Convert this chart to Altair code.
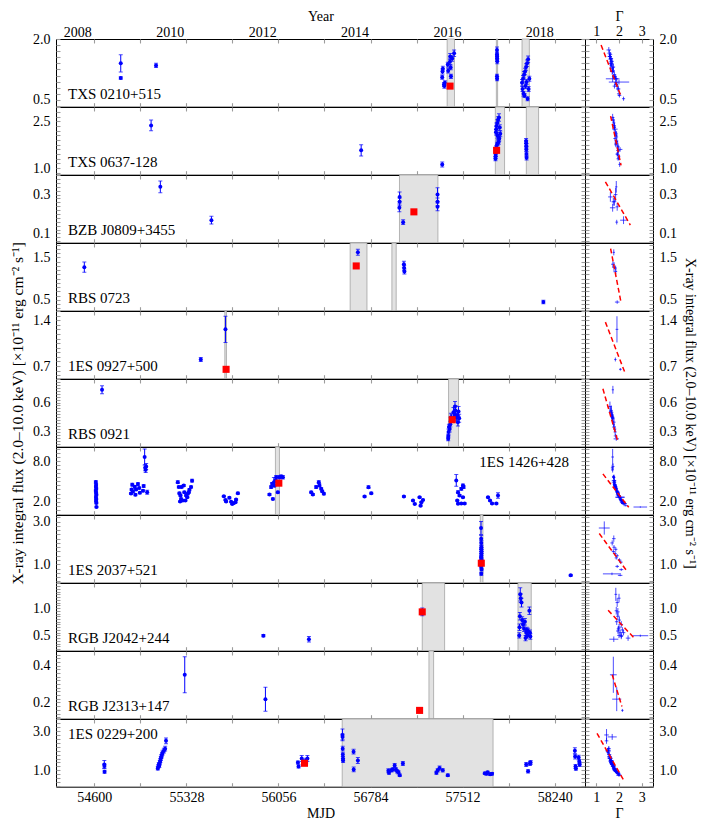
import altair as alt
import numpy as np
import pandas as pd

FONT = "Liberation Serif"
BLUE = "#0000ff"
RED = "#ff0000"

W_LEFT, W_RIGHT, H_ROW = 529, 68, 67.7

MJD_DOMAIN = [54297, 58480]
MJD_TICKS = [54600, 54964, 55328, 55692, 56056, 56420, 56784, 57148, 57512, 57876, 58240]
MJD_LABELS = [54600, 55328, 56056, 56784, 57512, 58240]
YEAR_TICKS = [2008, 2010, 2012, 2014, 2016, 2018]
GAMMA_DOMAIN = [0.5, 3.5]
GAMMA_TICKS = [1, 2, 3]

NAMES = ["TXS 0210+515", "TXS 0637-128", "BZB J0809+3455", "RBS 0723", "1ES 0927+500",
         "RBS 0921", "1ES 1426+428", "1ES 2037+521", "RGB J2042+244", "RGB J2313+147",
         "1ES 0229+200"]
LABEL_CORNER = ["bl", "bl", "bl", "bl", "bl", "bl", "tr", "bl", "bl", "bl", "tl"]
Y_DOMAINS = [[0.333, 2.0], [0.79, 2.96], [0.052, 0.401], [0.247, 1.84], [0.507, 1.54],
             [0.15, 0.84], [0.065, 10.08], [0.136, 3.31], [0.22, 1.458], [0.112, 0.479],
             [0.17, 3.61]]
Y_MAJOR = [[0.5, 2.0], [1.0, 2.5], [0.1, 0.3], [0.5, 1.5], [0.7, 1.4], [0.3, 0.6],
           [2.0, 8.0], [1.0, 3.0], [0.5, 1.0], [0.2, 0.4], [1.0, 3.0]]

RED_MJD = [57413, 57781, 57127, 56671, 55642, 57430, 56059, 57660, 57193, 57172, 56262]
RED_FLUX = [0.84, 1.57, 0.211, 1.30, 0.65, 0.425, 4.73, 1.05, 0.93, 0.157, 1.36]

HATCH_START = [[57390, 57779, 57982], [57771, 58016], [57013], [56623, 56953], [55632],
               [57401], [56032], [57652], [57193, 57950], [57246], [56560]]
HATCH_END = [[57448, 57789, 58040], [57844, 58113], [57317], [56756, 56987], [55645],
             [57480], [56064], [57673], [57370, 58055], [57283], [57753]]

LINE_GAMMA = [[1.21, 2.09], [1.63, 2.09], [1.40, 2.50], [1.63, 2.09], [1.40, 2.25],
              [1.29, 1.94], [1.29, 2.43], [1.13, 2.32], [1.52, 2.65], [1.70, 2.13], [1.03, 2.20]]
LINE_FLUX = [[1.85, 0.59], [2.67, 1.09], [0.366, 0.143], [1.71, 0.44], [1.37, 0.61],
             [0.74, 0.21], [6.1, 1.16], [2.44, 0.72], [0.96, 0.46], [0.35, 0.178], [2.88, 0.51]]

# ---------------- per-source observations ----------------
R1_MJD = [54809, 54809, 55088, 57351, 57353, 57356, 57365, 57368, 57372, 57395, 57398, 57412, 57414,
          57418, 57420, 57430, 57445, 57784, 57784, 57785, 57785, 57786, 57784, 57785, 57982, 57990,
          57998, 58006, 58014, 58022, 58030, 57986, 57994, 58002, 58010, 58018, 58026, 58034, 58040]
R1_FLUX = [1.40, 1.04, 1.35, 1.06, 1.20, 1.27, 0.88, 0.84, 0.92, 1.37, 1.22, 1.44, 1.57, 1.30, 1.08,
           1.52, 1.65, 1.73, 1.62, 1.57, 1.52, 1.45, 1.08, 1.02, 0.92, 1.02, 1.12, 1.20, 1.31, 1.40,
           1.50, 0.77, 0.65, 0.61, 0.84, 0.94, 0.53, 0.77, 1.02]
R1_FERR = [0.21, 0.03, 0.05, 0.05, 0.06, 0.06, 0.05, 0.05, 0.05, 0.06, 0.06, 0.07, 0.07, 0.06, 0.05,
           0.07, 0.08, 0.07, 0.06, 0.06, 0.06, 0.06, 0.05, 0.05, 0.08, 0.08, 0.08, 0.08, 0.08, 0.08,
           0.08, 0.06, 0.06, 0.05, 0.06, 0.06, 0.05, 0.06, 0.06]
R1_GAMMA = [1.62, 1.80, 1.65, 1.78, 1.72, 1.70, 1.88, 1.92, 1.85, 1.68, 1.75, 1.66, 1.60, 1.73, 1.84,
            1.63, 1.58, 1.55, 1.62, 1.58, 1.66, 1.70, 1.76, 1.88, 1.90, 1.72, 1.80, 1.70, 1.75, 1.68,
            1.62, 1.95, 2.00, 2.02, 1.80, 2.00, 2.20, 1.98, 1.85]
R1_GERR = [0.10, 0.06, 0.06, 0.07, 0.08, 0.07, 0.08, 0.08, 0.07, 0.08, 0.07, 0.08, 0.09, 0.07, 0.07,
           0.08, 0.09, 0.10, 0.08, 0.08, 0.08, 0.07, 0.07, 0.08, 0.08, 0.30, 0.08, 0.08, 0.08, 0.08,
           0.08, 0.08, 0.09, 0.08, 0.08, 0.45, 0.07, 0.08, 0.08]

R2_MJD = [55049, 56710, 57351, 57800, 57792, 57786, 57780, 57778, 57776, 57788, 57794, 57802, 57798,
          57790, 57784, 57778, 57776, 57774, 57773, 57772, 57806, 57810, 58014, 58015, 58016, 58016,
          58017, 58018]
R2_FLUX = [2.37, 1.57, 1.12, 2.62, 2.55, 2.45, 2.35, 2.25, 2.15, 2.05, 2.00, 1.95, 1.85, 1.80, 1.75,
           1.65, 1.55, 1.45, 1.38, 1.30, 2.30, 2.10, 1.87, 1.80, 1.70, 1.60, 1.45, 1.33]
R2_FERR = [0.17, 0.18, 0.08, 0.12, 0.10, 0.10, 0.10, 0.09, 0.09, 0.09, 0.08, 0.08, 0.08, 0.08, 0.08,
           0.07, 0.07, 0.07, 0.07, 0.06, 0.09, 0.09, 0.08, 0.08, 0.08, 0.07, 0.07, 0.07]
R2_GAMMA = [1.78, 1.95, 2.03, 1.72, 1.75, 1.77, 1.80, 1.82, 1.85, 1.86, 1.90, 1.82, 1.88, 1.92, 1.86,
            1.95, 1.98, 1.93, 2.00, 1.96, 1.80, 1.88, 1.90, 1.86, 1.96, 2.05, 1.92, 1.98]
R2_GERR = [0.07, 0.08, 0.06, 0.08, 0.07, 0.07, 0.07, 0.12, 0.07, 0.07, 0.06, 0.07, 0.07, 0.06, 0.07,
           0.07, 0.06, 0.07, 0.06, 0.07, 0.07, 0.07, 0.07, 0.07, 0.07, 0.10, 0.07, 0.06]

R3_MJD = [55122, 55526, 57014, 57014, 57012, 57042, 57314, 57314, 57314]
R3_FLUX = [0.34, 0.168, 0.288, 0.263, 0.232, 0.158, 0.30, 0.263, 0.237]
R3_FERR = [0.03, 0.02, 0.025, 0.02, 0.02, 0.012, 0.035, 0.02, 0.02]
R3_GAMMA = [1.88, 2.20, 1.62, 1.80, 1.72, 1.90, 1.85, 1.75, 1.92]
R3_GERR = [0.05, 0.15, 0.10, 0.08, 0.12, 0.06, 0.08, 0.08, 0.07]

R4_MJD = [54521, 56684, 57048, 57050, 57052, 58151]
R4_FLUX = [1.27, 1.62, 1.34, 1.25, 1.17, 0.45]
R4_FERR = [0.12, 0.07, 0.07, 0.06, 0.06, 0.04]
R4_GAMMA = [1.78, 1.77, 1.73, 1.85, 1.86, 1.92]
R4_GERR = [0.08, 0.05, 0.08, 0.06, 0.06, 0.10]

R5_MJD = [55442, 55637, 55640]
R5_FLUX = [0.80, 1.26, 0.65]
R5_FERR = [0.03, 0.20, 0.02]
R5_GAMMA = [1.84, 1.91, 2.06]
R5_GERR = [0.05, 0.06, 0.06]

R6_MJD = [54661, 57398, 57399, 57401, 57404, 57410, 57415, 57420, 57425, 57440, 57448, 57452, 57456,
          57462, 57470, 57475, 57485, 57480]
R6_FLUX = [0.73, 0.23, 0.26, 0.30, 0.35, 0.33, 0.38, 0.45, 0.44, 0.50, 0.46, 0.56, 0.52, 0.45, 0.47,
           0.40, 0.44, 0.51]
R6_FERR = [0.04, 0.02, 0.02, 0.03, 0.03, 0.03, 0.03, 0.04, 0.04, 0.05, 0.04, 0.05, 0.05, 0.04, 0.04,
           0.04, 0.04, 0.05]
R6_GAMMA = [1.73, 1.88, 1.85, 1.83, 1.78, 1.82, 1.76, 1.70, 1.72, 1.65, 1.70, 1.60, 1.66, 1.72, 1.68,
            1.78, 1.74, 1.64]
R6_GERR = [0.05, 0.12, 0.08, 0.07, 0.08, 0.06, 0.06, 0.07, 0.06, 0.10, 0.06, 0.08, 0.07, 0.08, 0.06,
           0.07, 0.06, 0.08]

R7_MJD = [54612, 54614, 54613, 54615, 54612, 54614, 54616, 54613, 54615, 54614, 54616, 54617,
          54890, 54895, 54900, 54905, 54920, 54925, 54930, 54945, 54955, 54960, 54985, 54990, 54998,
          55002, 55006, 55010, 55018,
          55260, 55268, 55273, 55281, 55286, 55300, 55307, 55312, 55326, 55339, 55347, 55352, 55365,
          55373, 55290, 55320, 55335, 55278,
          55624, 55637, 55642, 55668, 55682, 55690, 55700, 55716, 55721, 55735,
          55985, 55998, 56006, 56012, 56020, 56024, 56038, 56051, 56064, 56077, 56091, 56032,
          56315, 56328, 56354, 56375, 56380, 56394, 56402, 56415,
          56737, 56768, 56790, 57048, 57120, 57134, 57172, 57186, 57199, 57180,
          57462, 57476, 57488, 57502, 57515, 57520, 57470, 57476, 57502, 57528, 57515,
          57713, 57729, 57745, 57779, 57792]
R7_FLUX = [4.9, 4.5, 4.2, 3.9, 3.6, 3.3, 3.0, 2.7, 2.4, 2.1, 1.8, 1.2,
           3.2, 3.8, 4.5, 3.5, 4.2, 3.0, 3.8, 4.6, 4.0, 3.3, 3.6, 4.3, 8.6, 7.0, 6.7, 7.2, 3.4,
           4.88, 4.15, 3.24, 2.90, 2.40, 2.15, 4.4, 3.4, 2.9, 3.15, 3.4, 3.75, 4.15, 5.1, 4.15, 2.15,
           2.65, 2.0,
           2.8, 2.25, 2.0, 2.56, 1.97, 1.66, 1.75, 1.9, 2.3, 3.24,
           3.04, 4.15, 4.64, 2.4, 4.88, 4.4, 5.6, 3.4, 5.6, 5.7, 5.6, 5.1,
           3.4, 3.04, 4.15, 4.88, 4.4, 3.9, 3.55, 3.15,
           2.75, 4.13, 3.24, 2.75, 2.15, 1.66, 2.65, 1.9, 2.25, 1.4,
           5.13, 3.39, 2.9, 3.9, 4.4, 4.15, 2.15, 1.7, 1.72, 1.72, 2.65,
           2.65, 2.15, 1.72, 1.72, 2.9]
R7_FERR = [0.2, 0.2, 0.15, 0.15, 0.15, 0.12, 0.12, 0.12, 0.1, 0.1, 0.1, 0.1,
           0.15, 0.15, 0.2, 0.15, 0.2, 0.15, 0.15, 0.2, 0.15, 0.15, 0.15, 0.2, 1.2, 0.45, 0.4, 0.45, 0.3,
           0.2, 0.15, 0.15, 0.12, 0.12, 0.1, 0.15, 0.15, 0.12, 0.12, 0.15, 0.15, 0.15, 0.2, 0.15, 0.1,
           0.12, 0.1,
           0.12, 0.1, 0.1, 0.12, 0.1, 0.1, 0.1, 0.1, 0.12, 0.15,
           0.15, 0.2, 0.2, 0.12, 0.7, 0.2, 0.25, 0.15, 0.25, 0.25, 0.25, 0.2,
           0.15, 0.15, 0.2, 0.2, 0.2, 0.15, 0.15, 0.15,
           0.12, 0.2, 0.15, 0.12, 0.1, 0.1, 0.12, 0.1, 0.1, 0.1,
           0.87, 0.2, 0.15, 0.2, 0.2, 0.2, 0.1, 0.1, 0.1, 0.1, 0.12,
           0.12, 0.1, 0.1, 0.1, 0.4]
R7_GAMMA = [1.80, 1.85, 1.82, 1.90, 1.88, 1.95, 1.92, 2.00, 2.05, 2.10, 2.15, 2.94,
            1.95, 1.88, 1.80, 1.92, 1.84, 1.98, 1.86, 1.78, 1.85, 1.93, 1.90, 1.82, 1.72, 1.70, 1.72,
            1.74, 1.96,
            1.80, 1.86, 1.95, 2.00, 2.08, 2.12, 1.83, 1.92, 1.98, 1.96, 1.90, 1.88, 1.85, 1.78, 1.87,
            2.10, 2.02, 2.20,
            2.02, 2.10, 2.15, 2.05, 2.18, 2.25, 2.20, 2.12, 2.08, 1.95,
            1.97, 1.85, 1.80, 2.05, 1.78, 1.82, 1.76, 1.93, 1.78, 1.75, 1.77, 1.80,
            1.92, 1.97, 1.86, 1.80, 1.84, 1.88, 1.90, 1.95,
            2.00, 1.86, 1.95, 2.02, 2.12, 2.22, 2.05, 2.16, 2.10, 2.30,
            1.78, 1.93, 1.98, 1.88, 1.82, 1.85, 2.12, 2.20, 2.22, 2.18, 2.04,
            2.05, 2.12, 2.25, 2.20, 2.00]
R7_GERR = [0.06, 0.06, 0.06, 0.06, 0.06, 0.06, 0.06, 0.06, 0.06, 0.07, 0.07, 0.30,
           0.06, 0.06, 0.06, 0.06, 0.06, 0.06, 0.06, 0.06, 0.06, 0.06, 0.06, 0.06, 0.06, 0.06, 0.06,
           0.06, 0.08,
           0.06, 0.06, 0.06, 0.07, 0.07, 0.07, 0.06, 0.06, 0.07, 0.06, 0.06, 0.06, 0.06, 0.06, 0.06,
           0.07, 0.07, 0.08,
           0.07, 0.07, 0.08, 0.07, 0.08, 0.09, 0.08, 0.08, 0.07, 0.07,
           0.06, 0.06, 0.06, 0.07, 0.10, 0.06, 0.06, 0.06, 0.06, 0.06, 0.06, 0.06,
           0.06, 0.07, 0.06, 0.06, 0.06, 0.06, 0.06, 0.06,
           0.07, 0.06, 0.06, 0.07, 0.08, 0.09, 0.20, 0.08, 0.08, 0.10,
           0.10, 0.06, 0.07, 0.06, 0.06, 0.06, 0.08, 0.09, 0.09, 0.09, 0.20,
           0.07, 0.08, 0.09, 0.09, 0.07]

R8_MJD = [57658, 57659, 57660, 57661, 57659, 57662, 57660, 57661, 57658, 57663, 57660, 57659, 57662,
          57660, 58367]
R8_FLUX = [2.7, 2.2, 2.0, 1.8, 1.7, 1.6, 1.5, 1.4, 1.3, 1.2, 1.1, 0.9, 0.75, 0.55, 0.48]
R8_FERR = [0.31, 0.15, 0.12, 0.10, 0.10, 0.10, 0.10, 0.08, 0.08, 0.08, 0.08, 0.07, 0.06, 0.06, 0.04]
R8_GAMMA = [1.35, 1.77, 1.70, 1.78, 1.86, 1.75, 1.83, 1.92, 1.88, 2.02, 2.08, 1.92, 2.10, 1.69, 2.05]
R8_GERR = [0.24, 0.08, 0.08, 0.07, 0.07, 0.07, 0.07, 0.07, 0.07, 0.08, 0.08, 0.08, 0.09, 0.40, 0.10]

R9_MJD = [55937, 56297, 57960, 57962, 57965, 57968, 57972, 57978, 57983, 57990, 57998, 58005, 58010,
          58015, 58020, 58025, 58030, 58040, 58045, 58048, 57193]
R9_FLUX = [0.494, 0.43, 0.50, 0.65, 0.85, 1.25, 1.18, 1.10, 0.78, 0.70, 0.62, 0.75, 0.45, 0.55, 0.60,
           0.50, 0.58, 0.95, 0.55, 0.48, 0.93]
R9_FERR = [0.02, 0.05, 0.05, 0.06, 0.07, 0.12, 0.08, 0.08, 0.06, 0.06, 0.05, 0.06, 0.05, 0.05, 0.05,
           0.05, 0.05, 0.07, 0.05, 0.05, 0.07]
R9_GAMMA = [2.94, 1.77, 2.10, 2.00, 1.95, 1.86, 2.00, 1.92, 2.02, 2.10, 1.98, 1.90, 2.40, 2.05, 2.15,
            2.00, 1.95, 1.88, 2.20, 2.10, 1.95]
R9_GERR = [0.35, 0.20, 0.08, 0.08, 0.08, 0.06, 0.07, 0.07, 0.07, 0.08, 0.08, 0.08, 0.10, 0.08, 0.08,
           0.08, 0.08, 0.07, 0.08, 0.08, 0.08]

R10_MJD = [55315, 55953, 57172]
R10_FLUX = [0.35, 0.218, 0.157]
R10_FERR = [0.098, 0.065, 0.008]
R10_GAMMA = [1.75, 1.90, 2.15]
R10_GERR = [0.15, 0.20, 0.05]

R11_MJD = [54679, 54680, 54681,
           55102, 55106, 55110, 55114, 55118, 55122, 55126, 55130, 55135, 55140, 55150, 55160, 55167,
           56210, 56215, 56240, 56250, 56275, 56285,
           56562, 56563, 56564, 56565, 56566, 56567,
           56650, 56651, 56684,
           56925, 56930, 56950, 56960, 56975, 56985, 56995, 57005, 57015, 57040,
           57305, 57315, 57330, 57355, 57395,
           57688, 57700, 57710, 57730, 57745,
           58015, 58030, 58045, 58050,
           58400, 58402, 58405, 58408, 58430, 58435, 58438]
R11_FLUX = [1.30, 1.22, 0.93,
            1.10, 1.20, 1.30, 1.25, 1.40, 1.50, 1.60, 1.70, 1.80, 1.90, 2.00, 2.10, 2.50,
            1.40, 1.20, 1.60, 1.45, 1.50, 1.60,
            2.80, 2.70, 2.10, 1.80, 1.60, 1.50,
            1.95, 1.05, 1.50,
            0.98, 0.88, 1.00, 1.05, 1.25, 1.05, 0.95, 0.90, 0.75, 1.35,
            0.88, 1.00, 1.12, 1.00, 0.75,
            0.85, 0.83, 0.90, 0.80, 0.83,
            1.30, 0.95, 1.35, 1.40,
            2.00, 1.70, 1.20, 1.10, 1.65, 1.45, 1.30]
R11_FERR = [0.20, 0.10, 0.08,
            0.08, 0.08, 0.10, 0.10, 0.10, 0.10, 0.10, 0.10, 0.12, 0.12, 0.12, 0.12, 0.15,
            0.08, 0.08, 0.15, 0.12, 0.12, 0.15,
            0.30, 0.15, 0.12, 0.10, 0.10, 0.10,
            0.12, 0.12, 0.15,
            0.10, 0.08, 0.08, 0.08, 0.10, 0.08, 0.08, 0.08, 0.06, 0.10,
            0.08, 0.08, 0.10, 0.08, 0.06,
            0.06, 0.06, 0.06, 0.06, 0.06,
            0.10, 0.08, 0.10, 0.10,
            0.15, 0.12, 0.10, 0.10, 0.12, 0.10, 0.10]
R11_GAMMA = [1.72, 1.78, 1.90,
             1.80, 1.74, 1.70, 1.76, 1.65, 1.62, 1.58, 1.60, 1.55, 1.52, 1.50, 1.55, 1.45,
             1.68, 1.75, 1.60, 1.66, 1.64, 1.62,
             1.45, 1.70, 1.55, 1.58, 1.63, 1.67,
             1.52, 1.82, 1.65,
             1.85, 1.92, 1.80, 1.78, 1.72, 1.84, 1.88, 1.90, 1.98, 1.70,
             1.95, 1.86, 1.76, 1.82, 2.02,
             1.94, 1.98, 1.90, 2.00, 1.96,
             1.72, 1.88, 1.68, 1.66,
             1.52, 1.58, 1.74, 1.80, 1.60, 1.64, 1.70]
R11_GERR = [0.10, 0.08, 0.08,
            0.08, 0.07, 0.07, 0.07, 0.07, 0.07, 0.07, 0.07, 0.07, 0.07, 0.07, 0.07, 0.08,
            0.08, 0.08, 0.10, 0.08, 0.08, 0.08,
            0.10, 0.20, 0.08, 0.08, 0.08, 0.08,
            0.10, 0.10, 0.10,
            0.08, 0.10, 0.08, 0.08, 0.08, 0.08, 0.08, 0.08, 0.10, 0.10,
            0.10, 0.08, 0.08, 0.08, 0.10,
            0.08, 0.08, 0.08, 0.08, 0.08,
            0.10, 0.12, 0.10, 0.10,
            0.12, 0.10, 0.10, 0.10, 0.10, 0.10, 0.10]

ROWS = [
    (R1_MJD, R1_FLUX, R1_FERR, R1_GAMMA, R1_GERR),
    (R2_MJD, R2_FLUX, R2_FERR, R2_GAMMA, R2_GERR),
    (R3_MJD, R3_FLUX, R3_FERR, R3_GAMMA, R3_GERR),
    (R4_MJD, R4_FLUX, R4_FERR, R4_GAMMA, R4_GERR),
    (R5_MJD, R5_FLUX, R5_FERR, R5_GAMMA, R5_GERR),
    (R6_MJD, R6_FLUX, R6_FERR, R6_GAMMA, R6_GERR),
    (R7_MJD, R7_FLUX, R7_FERR, R7_GAMMA, R7_GERR),
    (R8_MJD, R8_FLUX, R8_FERR, R8_GAMMA, R8_GERR),
    (R9_MJD, R9_FLUX, R9_FERR, R9_GAMMA, R9_GERR),
    (R10_MJD, R10_FLUX, R10_FERR, R10_GAMMA, R10_GERR),
    (R11_MJD, R11_FLUX, R11_FERR, R11_GAMMA, R11_GERR),
]

Y_TITLE = "X-ray integral flux (2.0\u201310.0 keV) [\u00d710\u207b\u00b9\u00b9 erg cm\u207b\u00b2 s\u207b\u00b9]"

TICK_STYLE = dict(tickColor="#9c9c9c", tickWidth=1.1, tickSize=4, offset=-4, domain=False,
                  grid=False, labelOverlap=False, labelFlush=False)


def minor_vals(lo, hi, a, b):
    step = (b - a) / 10.0
    k0 = int(np.ceil((lo - a) / step - 1e-9))
    k1 = int(np.floor((hi - a) / step + 1e-9))
    return [round(a + k * step, 6) for k in range(k0, k1 + 1)]


def y_axis(orient, dom, major, labels, title=None):
    vals = minor_vals(dom[0], dom[1], major[0], major[1])
    kw = dict(orient=orient, values=vals, title=title, **TICK_STYLE)
    if labels:
        a, b = major
        kw.update(labels=True, labelPadding=6,
                  labelExpr=f"(abs(datum.value-{a})<1e-6 || abs(datum.value-{b})<1e-6) ? format(datum.value,'.1f') : ''")
        if title:
            if orient == "left":
                kw.update(titlePadding=7, titleFontSize=15.5)
            else:
                kw.update(titlePadding=6, titleFontSize=14)
    else:
        kw.update(labels=False)
    return alt.Axis(**kw)


def x_axis(orient, labels, title=None):
    kw = dict(orient=orient, values=MJD_TICKS, title=title, **TICK_STYLE)
    if labels:
        lab = ",".join(str(v) for v in MJD_LABELS)
        kw.update(labels=True, format="d", labelPadding=4, titlePadding=2,
                  labelExpr=f"indexof([{lab}], datum.value) >= 0 ? format(datum.value,'d') : ''")
    else:
        kw.update(labels=False)
    return alt.Axis(**kw)


def g_axis(orient):
    if orient == "top":
        return alt.Axis(orient=orient, values=GAMMA_TICKS, format="d", title="\u0393", labelPadding=1,
                        titlePadding=1, **TICK_STYLE)
    return alt.Axis(orient=orient, values=GAMMA_TICKS, format="d", title="\u0393", labelPadding=4,
                    titlePadding=2, **TICK_STYLE)


def mjd_to_year(m):
    return 2008 + (m - 54466) / 365.25


n = len(ROWS)
panels = []
for i, (mjd, flux, ferr, gam, gerr) in enumerate(ROWS):
    df = pd.DataFrame({"mjd": mjd, "flux": flux, "ferr": ferr, "gamma": gam, "gerr": gerr})
    df["lo"] = df.flux - df.ferr
    df["hi"] = df.flux + df.ferr
    df["glo"] = df.gamma - df.gerr
    df["ghi"] = df.gamma + df.gerr
    hdf = pd.DataFrame({"s": HATCH_START[i], "e": HATCH_END[i]})
    rdf = pd.DataFrame({"mjd": [RED_MJD[i]], "flux": [RED_FLUX[i]]})
    ldf = pd.DataFrame({"g": LINE_GAMMA[i], "f": LINE_FLUX[i]})
    dom = Y_DOMAINS[i]
    major = Y_MAJOR[i]
    xs = alt.Scale(domain=MJD_DOMAIN, nice=False, zero=False)
    ys = alt.Scale(domain=dom, nice=False, zero=False)
    first, last = i == 0, i == n - 1
    ytitle = Y_TITLE if i == (n // 2) else None

    hatch = alt.Chart(hdf).mark_rect(fill="#e2e2e2", stroke="#999999", strokeWidth=0.7).encode(
        x=alt.X("s:Q", scale=xs, axis=None), x2="e:Q")
    bars = alt.Chart(df).mark_rule(color=BLUE, strokeWidth=1, clip=True).encode(
        x=alt.X("mjd:Q", scale=xs, axis=x_axis("top", False)),
        y=alt.Y("lo:Q", scale=ys, axis=y_axis("right", dom, major, False)),
        y2="hi:Q")
    caps = alt.Chart(df).transform_fold(["lo", "hi"], as_=["k", "v"]).mark_tick(
        color=BLUE, orient="horizontal", size=4, thickness=1, clip=True).encode(
        x=alt.X("mjd:Q", scale=xs, axis=None),
        y=alt.Y("v:Q", scale=ys, axis=None))
    pts = alt.Chart(df).mark_circle(color=BLUE, size=16, opacity=1, clip=True).encode(
        x=alt.X("mjd:Q", scale=xs, axis=x_axis("bottom", last, "MJD" if last else None)),
        y=alt.Y("flux:Q", scale=ys, axis=y_axis("left", dom, major, True, ytitle)))
    red = alt.Chart(rdf).mark_square(color=RED, size=50, opacity=1).encode(
        x=alt.X("mjd:Q", scale=xs, axis=None),
        y=alt.Y("flux:Q", scale=ys, axis=None))
    corner = LABEL_CORNER[i]
    tdf = pd.DataFrame({"t": [NAMES[i]]})
    if corner == "bl":
        txt = alt.Chart(tdf).mark_text(align="left", baseline="alphabetic", fontSize=15, font=FONT).encode(
            x=alt.value(12), y=alt.value(H_ROW - 7.5), text="t:N")
    elif corner == "tl":
        txt = alt.Chart(tdf).mark_text(align="left", baseline="alphabetic", fontSize=15, font=FONT).encode(
            x=alt.value(12), y=alt.value(19.5), text="t:N")
    else:
        txt = alt.Chart(tdf).mark_text(align="right", baseline="alphabetic", fontSize=15, font=FONT).encode(
            x=alt.value(W_LEFT - 16), y=alt.value(19.5), text="t:N")

    left = alt.layer(hatch, bars, caps, pts, red, txt).resolve_axis(x="independent", y="independent")
    if first:
        y0, y1 = mjd_to_year(MJD_DOMAIN[0]), mjd_to_year(MJD_DOMAIN[1])
        ydf = pd.DataFrame({"year": [y0, y1]})
        yr = alt.Chart(ydf).mark_point(opacity=0).encode(
            x=alt.X("year:Q", scale=alt.Scale(domain=[y0, y1], nice=False, zero=False),
                    axis=alt.Axis(orient="top", values=YEAR_TICKS, format="d", title="Year",
                                  ticks=False, domain=False, grid=False, labelPadding=0,
                                  titlePadding=2, labelFlush=False, labelOverlap=False)))
        left = alt.layer(left, yr).resolve_scale(x="independent")
    left = left.properties(width=W_LEFT, height=H_ROW)

    gs = alt.Scale(domain=GAMMA_DOMAIN, nice=False, zero=False)
    gx_top = g_axis("top") if first else None
    gx_bot = g_axis("bottom") if last else None
    vert = alt.Chart(df).mark_rule(color=BLUE, strokeWidth=1, opacity=0.7, clip=True).encode(
        x=alt.X("gamma:Q", scale=gs, axis=gx_top),
        y=alt.Y("lo:Q", scale=ys, axis=y_axis("right", dom, major, True, ytitle)),
        y2="hi:Q")
    horiz = alt.Chart(df).mark_rule(color=BLUE, strokeWidth=1, opacity=0.7, clip=True).encode(
        x=alt.X("glo:Q", scale=gs, axis=gx_bot),
        x2="ghi:Q",
        y=alt.Y("flux:Q", scale=ys, axis=y_axis("left", dom, major, False)))
    line = alt.Chart(ldf).mark_line(color=RED, strokeDash=[5, 3], strokeWidth=1.5, clip=True).encode(
        x=alt.X("g:Q", scale=gs, axis=None),
        y=alt.Y("f:Q", scale=ys, axis=None))
    right = alt.layer(vert, horiz, line).resolve_axis(x="independent", y="independent").properties(
        width=W_RIGHT, height=H_ROW)
    panels.extend([left, right])

chart = alt.concat(*panels, columns=2, spacing=0, bounds="flush").properties(
    padding={"left": 1, "top": 0, "right": 0, "bottom": 0}
).configure(
    font=FONT
).configure_axis(
    labelFont=FONT, titleFont=FONT, labelFontSize=14, titleFontSize=14, titleFontWeight="normal",
    labelColor="black", titleColor="black"
).configure_view(stroke="black", strokeWidth=1)

chart.save("out.html", embed_options={"renderer": "svg", "actions": False})
